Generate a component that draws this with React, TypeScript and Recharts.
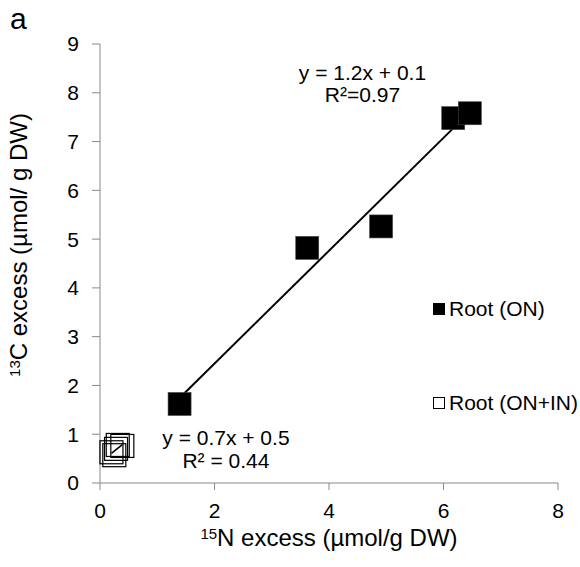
import { ScatterChart, Scatter, XAxis, YAxis, ReferenceLine, ReferenceDot, Label } from "recharts"

// Root (ON) – filled squares
const onX = [1.39, 3.62, 4.91, 6.17, 6.46]
const onY = [1.62, 4.82, 5.26, 7.48, 7.58]
// Root (ON+IN) – open squares
const inX = [0.31, 0.39, 0.2, 0.25, 0.28]
const inY = [0.78, 0.76, 0.63, 0.57, 0.7]

const seriesNames = ["Root (ON)", "Root (ON+IN)"]
const xTicks = [0, 2, 4, 6, 8]
const yTicks = [0, 1, 2, 3, 4, 5, 6, 7, 8, 9]

const eqOn = ["y = 1.2x + 0.1", "R²=0.97"]
const eqIn = ["y = 0.7x + 0.5", "R² = 0.44"]

const FONT = "'Liberation Sans', Arial, Helvetica, sans-serif"
const AXIS = "#898989"

const toPoints = (xs: number[], ys: number[]) => xs.map((x, i) => ({ x, y: ys[i] }))

// least squares trendline spanning the data range
function trend(xs: number[], ys: number[]) {
  const n = xs.length
  const mx = xs.reduce((a, b) => a + b, 0) / n
  const my = ys.reduce((a, b) => a + b, 0) / n
  let sxy = 0, sxx = 0
  xs.forEach((x, i) => {
    sxy += (x - mx) * (ys[i] - my)
    sxx += (x - mx) * (x - mx)
  })
  const b = sxy / sxx
  const a = my - b * mx
  const x0 = Math.min(...xs)
  const x1 = Math.max(...xs)
  return [{ x: x0, y: a + b * x0 }, { x: x1, y: a + b * x1 }]
}

const FilledSquare = (props: any) => {
  const { cx, cy } = props
  return <rect x={cx - 11.5} y={cy - 11.5} width={23} height={23} fill="#000" stroke="#444" strokeWidth={0.6} />
}

const OpenSquare = (props: any) => {
  const { cx, cy } = props
  return <rect x={cx - 11.5} y={cy - 11.5} width={23} height={23} fill="none" stroke="#000" strokeWidth={1.2} />
}

const eqLabel = (lines: string[]) => (props: any) => {
  const { viewBox } = props
  const cx = viewBox.x + (viewBox.width || 0) / 2
  const cy = viewBox.y + (viewBox.height || 0) / 2
  return (
    <text x={cx} y={cy} textAnchor="middle" fontSize={21} fill="#000" fontFamily={FONT}>
      <tspan x={cx} dy="0.35em">{lines[0]}</tspan>
      <tspan x={cx} dy="1.08em">{lines[1]}</tspan>
    </text>
  )
}

const YTitle = () => (
  <text x={27} y={245} transform="rotate(-90, 27, 245)" textAnchor="middle" fontSize={24} fill="#000" fontFamily={FONT} dy="0.35em">
    <tspan fontSize={15} dy="-0.45em">13</tspan>
    <tspan dy="0.3em">C excess (µmol/ g DW)</tspan>
  </text>
)

const XTitle = () => (
  <text x={329} y={546} textAnchor="middle" fontSize={24} fill="#000" fontFamily={FONT} dy="0.35em">
    <tspan fontSize={15} dy="-0.45em">15</tspan>
    <tspan dy="0.3em">N excess (µmol/g DW)</tspan>
  </text>
)

export default function App() {
  const onData = toPoints(onX, onY)
  const inData = toPoints(inX, inY)
  const onFit = trend(onX, onY)
  const inFit = trend(inX, inY)

  return (
    <div style={{ position: "absolute", left: 0, top: 0, width: 580, height: 567, background: "#fff", fontFamily: FONT }}>
      <div style={{ position: "absolute", left: 10, top: 4, fontSize: 30, lineHeight: "30px", color: "#000" }}>a</div>
      <ScatterChart width={580} height={567} margin={{ top: 44, right: 22, bottom: 44, left: 40 }} style={{ fontFamily: FONT }}>
        <XAxis
          type="number"
          dataKey="x"
          domain={[0, 8]}
          ticks={xTicks}
          height={40}
          stroke={AXIS}
          tickSize={7}
          tickMargin={13}
          tick={{ fill: "#000", fontSize: 21 }}
        >
          <Label content={XTitle} />
        </XAxis>
        <YAxis
          type="number"
          dataKey="y"
          domain={[0, 9]}
          ticks={yTicks}
          width={60}
          stroke={AXIS}
          tickSize={8}
          tickMargin={13}
          tick={{ fill: "#000", fontSize: 21 }}
        >
          <Label content={YTitle} />
        </YAxis>
        <ReferenceLine segment={onFit} stroke="#000" strokeWidth={2} />
        <ReferenceLine segment={inFit} stroke="#000" strokeWidth={1.5} />
        <Scatter name={seriesNames[0]} data={onData} shape={FilledSquare} isAnimationActive={false} />
        <Scatter name={seriesNames[1]} data={inData} shape={OpenSquare} isAnimationActive={false} />
        <ReferenceDot x={4.585} y={8.42} r={0} stroke="none" label={{ content: eqLabel(eqOn) }} />
        <ReferenceDot x={2.2} y={0.92} r={0} stroke="none" label={{ content: eqLabel(eqIn) }} />
      </ScatterChart>
      <div style={{ position: "absolute", left: 433, top: 296, fontSize: 21, lineHeight: "26px", display: "flex", alignItems: "center" }}>
        <span style={{ width: 12, height: 12, background: "#000", display: "inline-block", marginRight: 4 }} />
        <span>{seriesNames[0]}</span>
      </div>
      <div style={{ position: "absolute", left: 433, top: 390, fontSize: 21, lineHeight: "26px", display: "flex", alignItems: "center" }}>
        <span style={{ width: 10, height: 10, border: "1px solid #000", display: "inline-block", marginRight: 4 }} />
        <span>{seriesNames[1]}</span>
      </div>
    </div>
  )
}
